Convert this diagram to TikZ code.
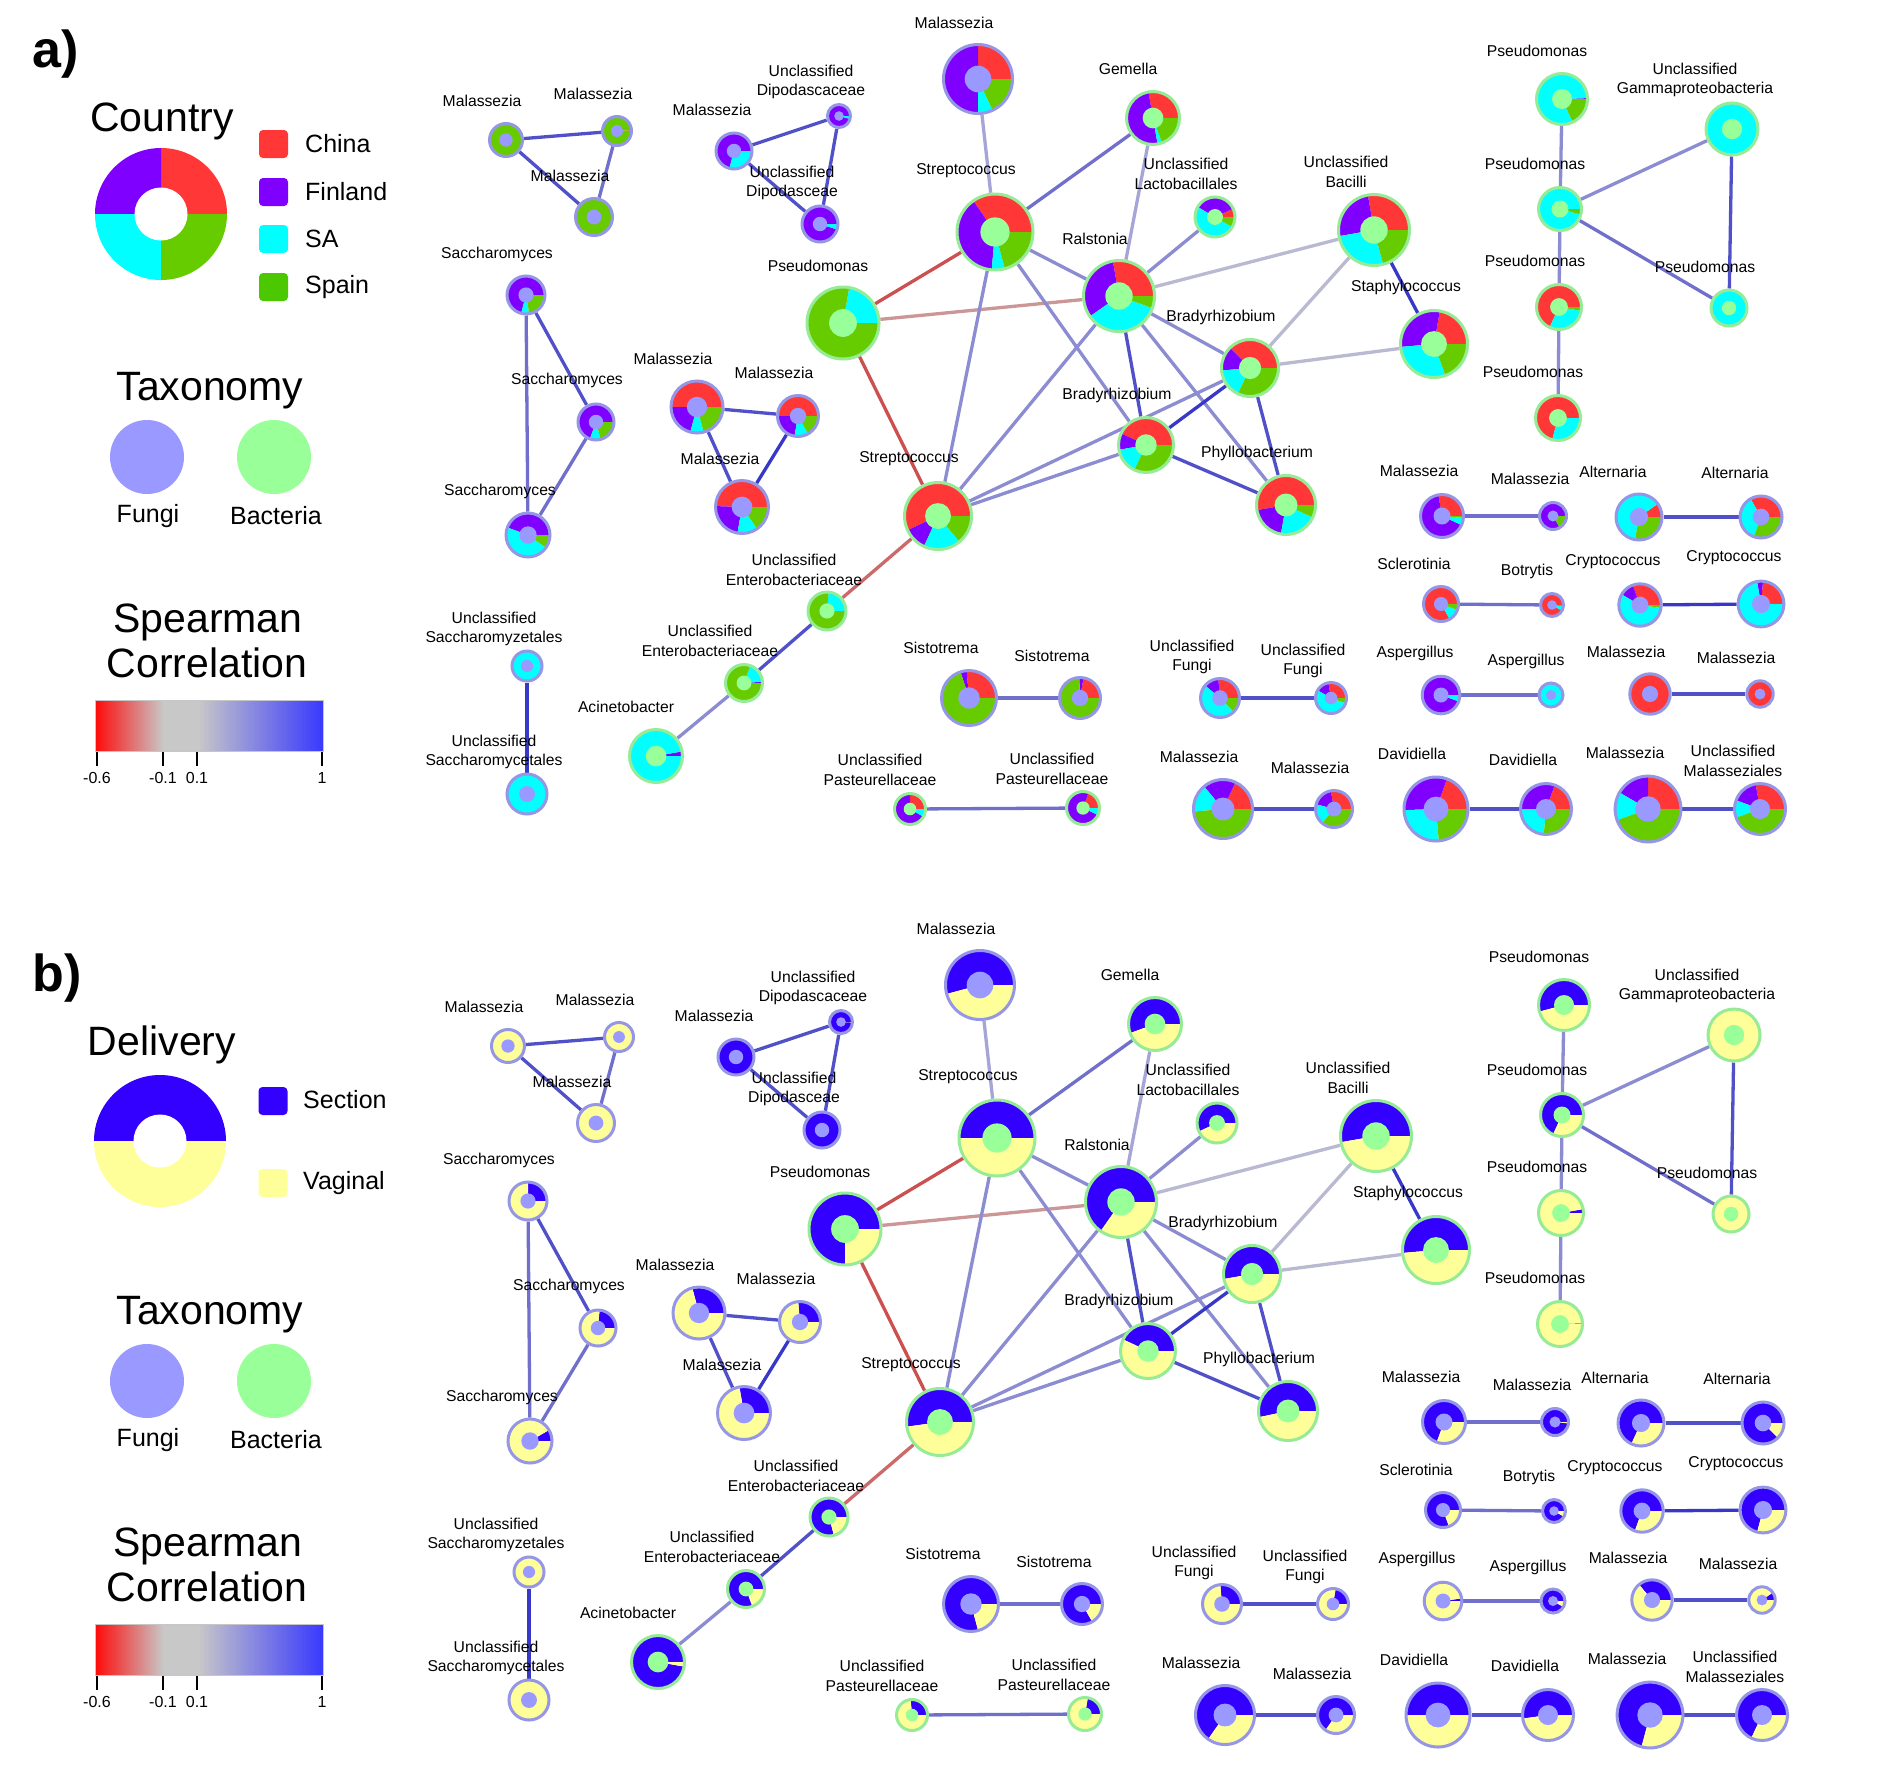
\documentclass[tikz,border=0pt]{standalone}
\usepackage{fontspec}
\setmainfont{Liberation Sans}
\pgfdeclarelayer{bgw}
\pgfdeclarelayer{edges}
\pgfsetlayers{bgw,edges,main}
\definecolor{cchina}{RGB}{255,55,55}
\definecolor{cfin}{RGB}{127,0,255}
\definecolor{csa}{RGB}{0,255,255}
\definecolor{cspain}{RGB}{102,204,0}
\definecolor{cspainL}{RGB}{76,200,0}
\definecolor{csec}{RGB}{51,0,255}
\definecolor{cvag}{RGB}{255,255,153}
\definecolor{innf}{RGB}{153,153,255}
\definecolor{innb}{RGB}{153,255,153}
\definecolor{bordf}{RGB}{150,150,230}
\definecolor{bordb}{RGB}{150,235,150}
\definecolor{ecA}{RGB}{56,56,200}
\definecolor{ecB}{RGB}{80,80,200}
\definecolor{ecC}{RGB}{112,112,204}
\definecolor{ecD}{RGB}{140,140,210}
\definecolor{ecE}{RGB}{165,165,215}
\definecolor{ecF}{RGB}{185,185,210}
\definecolor{ecR}{RGB}{204,80,80}
\definecolor{ecS}{RGB}{204,105,105}
\definecolor{ecP}{RGB}{204,150,150}
\definecolor{cred}{RGB}{255,10,10}
\definecolor{cgray}{RGB}{200,200,200}
\definecolor{cblue}{RGB}{56,56,255}
\tikzset{
  lbl/.style={font=\fontsize{15.7}{19.5}\selectfont, align=center, inner sep=0pt},
  ttl/.style={font=\fontsize{41}{49}\selectfont, inner sep=0pt, anchor=base},
  leg/.style={font=\fontsize{25}{30}\selectfont, inner sep=0pt, anchor=west},
  sq/.style={minimum width=29pt, minimum height=28pt, inner sep=0pt, rounded corners=4pt},
  ticklab/.style={font=\fontsize{16}{19}\selectfont, inner sep=0pt},
}
\newif\ifpanelb
\def\npre{a}
\newcommand\wdg[6]{\ifdim #5pt<#6pt\relax \fill[#1] (#2,#3) -- ++(#5:#4) arc[start angle=#5, end angle=#6, radius=#4] -- cycle;\fi}
\newcommand\pnode[9]{%
  \pgfmathsetmacro\rin{#4-1.5}%
  \ifpanelb
    \wdg{csec}{#2}{-#3}{\rin}{0}{#9}%
    \wdg{cvag}{#2}{-#3}{\rin}{#9}{360}%
  \else
    \wdg{cchina}{#2}{-#3}{\rin}{0}{#6}%
    \wdg{cfin}{#2}{-#3}{\rin}{#6}{#7}%
    \wdg{csa}{#2}{-#3}{\rin}{#7}{#8}%
    \wdg{cspain}{#2}{-#3}{\rin}{#8}{360}%
  \fi
  \fill[inn#5] (#2,-#3) circle[radius=0.37*#4];%
  \node[circle, inner sep=0pt, minimum size=2*#4-3, draw=bord#5, line width=3pt] (\npre-#1) at (#2,-#3) {};%
}
\newcommand\edg[3]{\draw[line width=3.3pt, #3] (\npre-#1) -- (\npre-#2);}
\newcommand\nlab[4]{\node[lbl] (\npre-l-#1) at (#2,-#3) {#4};}
\newcommand\drawnet{%
\pnode{M1}{506}{140}{18}{f}{0}{0}{0}{0}
\pnode{M2}{617}{131}{16}{f}{3}{3}{3}{0}
\pnode{M3}{594}{217}{20}{f}{0}{0}{0}{0}
\pnode{M4}{734}{151}{19.5}{f}{0}{255}{360}{360}
\pnode{UDa}{839}{116}{13}{f}{0}{345}{360}{357}
\pnode{UDb}{820}{224}{19.5}{f}{0}{342}{360}{360}
\pnode{S1}{526}{295}{20.5}{f}{0}{255}{280}{90}
\pnode{S2}{596}{422}{19.5}{f}{0}{250}{285}{85}
\pnode{S3}{528}{535}{23.5}{f}{0}{160}{325}{30}
\pnode{M5}{697}{407}{27.5}{f}{180}{255}{285}{105}
\pnode{M6}{798}{416}{22}{f}{180}{260}{300}{95}
\pnode{M7}{742}{507}{28}{f}{178}{260}{305}{100}
\pnode{P0}{843}{323}{37.5}{b}{0}{0}{80}{270}
\pnode{MT}{978}{79}{36}{f}{90}{270}{295}{195}
\pnode{GE}{1153}{118}{28}{b}{100}{280}{290}{200}
\pnode{ST1}{995}{232}{39.5}{b}{125}{265}{285}{180}
\pnode{UL}{1215}{217}{21.5}{b}{25}{150}{330}{205}
\pnode{R}{1119}{296}{37}{b}{100}{215}{340}{235}
\pnode{UB}{1374}{230}{37}{b}{100}{190}{285}{190}
\pnode{B1}{1250}{368}{30}{b}{135}{185}{245}{190}
\pnode{SP}{1434}{344}{35}{b}{80}{185}{290}{185}
\pnode{B2}{1146}{445}{29}{b}{155}{190}{245}{155}
\pnode{PH}{1286}{505}{31}{b}{190}{260}{335}{192}
\pnode{ST2}{938}{516}{35}{b}{205}{245}{310}{188}
\pnode{UE1}{827}{611}{20.5}{b}{0}{0}{85}{285}
\pnode{UE2}{744}{683}{20}{b}{0}{4}{70}{290}
\pnode{AC}{656}{756}{28}{b}{0}{10}{360}{350}
\pnode{SCa}{527}{666}{16.5}{f}{0}{0}{360}{0}
\pnode{SCb}{527}{794}{21.5}{f}{0}{0}{360}{0}
\pnode{UP1}{910}{809}{17}{b}{90}{330}{360}{95}
\pnode{UP2}{1083}{808}{18}{b}{70}{335}{360}{80}
\pnode{SI1}{969}{698}{29}{f}{95}{108}{108}{285}
\pnode{SI2}{1080}{698}{22}{f}{80}{92}{92}{300}
\pnode{UF1}{1220}{698}{21}{f}{95}{140}{315}{95}
\pnode{UF2}{1331}{698}{17}{f}{100}{150}{340}{80}
\pnode{MM1}{1223}{809}{31}{f}{65}{130}{185}{235}
\pnode{MM2}{1334}{809}{20}{f}{100}{165}{230}{235}
\pnode{MA1}{1442}{516}{23}{f}{100}{335}{355}{250}
\pnode{MA2}{1553}{516}{15}{f}{0}{300}{300}{354}
\pnode{AL1}{1639}{517}{24.5}{f}{35}{35}{260}{245}
\pnode{AL2}{1761}{517}{22.5}{f}{120}{120}{250}{315}
\pnode{SC}{1441}{604}{19}{f}{300}{300}{340}{290}
\pnode{BO}{1552}{605}{13}{f}{330}{330}{352}{330}
\pnode{CR1}{1640}{605}{22.7}{f}{110}{150}{352}{250}
\pnode{CR2}{1761}{604}{24.4}{f}{85}{100}{360}{255}
\pnode{AS1}{1441}{695}{20.3}{f}{0}{340}{360}{8}
\pnode{AS2}{1551}{695}{13.5}{f}{0}{3}{360}{330}
\pnode{MC1}{1650}{694}{21.7}{f}{360}{360}{360}{130}
\pnode{MC2}{1760}{694}{14.7}{f}{360}{360}{360}{35}
\pnode{DA1}{1436}{809}{33.5}{f}{70}{182}{275}{180}
\pnode{DA2}{1546}{809}{27}{f}{70}{180}{265}{188}
\pnode{MD1}{1648}{809}{34.4}{f}{90}{150}{200}{255}
\pnode{UM}{1760}{809}{27}{f}{100}{160}{200}{245}
\pnode{PS1}{1562}{99}{27}{b}{0}{2}{295}{195}
\pnode{UG}{1732}{129}{27.5}{b}{0}{0}{360}{0}
\pnode{PS2}{1560}{209}{23}{b}{0}{0}{345}{245}
\pnode{PS3}{1559}{307}{24}{b}{245}{245}{350}{10}
\pnode{PS4}{1558}{418}{24}{b}{255}{255}{360}{2}
\pnode{PS5}{1729}{308}{19.5}{b}{0}{0}{360}{0}
\begin{pgfonlayer}{edges}
\edg{M1}{M2}{ecB}\edg{M1}{M3}{ecB}\edg{M2}{M3}{ecC}
\edg{M4}{UDa}{ecB}\edg{M4}{UDb}{ecB}\edg{UDa}{UDb}{ecB}
\edg{S1}{S2}{ecB}\edg{S1}{S3}{ecC}\edg{S2}{S3}{ecC}
\edg{M5}{M6}{ecB}\edg{M5}{M7}{ecB}\edg{M6}{M7}{ecA}
\edg{P0}{ST1}{ecR}\edg{P0}{R}{ecP}\edg{P0}{ST2}{ecR}
\edg{MT}{ST1}{ecE}\edg{GE}{ST1}{ecC}\edg{GE}{R}{ecE}
\edg{UL}{R}{ecD}\edg{UB}{R}{ecF}\edg{UB}{B1}{ecF}
\edg{UB}{SP}{ecA}\edg{SP}{B1}{ecF}\edg{ST1}{R}{ecD}
\edg{ST1}{ST2}{ecD}\edg{ST1}{B2}{ecD}\edg{R}{B1}{ecD}
\edg{R}{B2}{ecB}\edg{R}{PH}{ecD}\edg{R}{ST2}{ecD}
\edg{B1}{B2}{ecA}\edg{B1}{ST2}{ecD}\edg{B2}{ST2}{ecD}
\edg{B1}{PH}{ecB}\edg{B2}{PH}{ecB}
\edg{ST2}{UE1}{ecS}\edg{UE1}{UE2}{ecB}\edg{UE2}{AC}{ecD}
\edg{SCa}{SCb}{ecA}\edg{UP1}{UP2}{ecC}\edg{SI1}{SI2}{ecC}
\edg{UF1}{UF2}{ecB}\edg{MM1}{MM2}{ecB}\edg{MA1}{MA2}{ecC}
\edg{AL1}{AL2}{ecB}\edg{SC}{BO}{ecC}\edg{CR1}{CR2}{ecA}
\edg{AS1}{AS2}{ecC}\edg{MC1}{MC2}{ecB}\edg{DA1}{DA2}{ecB}
\edg{MD1}{UM}{ecB}
\edg{PS1}{PS2}{ecD}\edg{PS2}{UG}{ecD}\edg{PS2}{PS3}{ecD}
\edg{PS2}{PS5}{ecC}\edg{PS3}{PS4}{ecD}\edg{UG}{PS5}{ecB}
\end{pgfonlayer}
\nlab{M1}{482}{101}{Malassezia}
\nlab{M2}{593}{94}{Malassezia}
\nlab{M3}{570}{176}{Malassezia}
\nlab{M4}{712}{110}{Malassezia}
\nlab{UDa}{811}{82}{Unclassified\\Dipodascaceae}
\nlab{UDb}{792}{183}{Unclassified\\Dipodasceae}
\nlab{S1}{497}{254}{Saccharomyces}
\nlab{S2}{567}{380}{Saccharomyces}
\nlab{S3}{500}{491}{Saccharomyces}
\nlab{M5}{673}{359}{Malassezia}
\nlab{M6}{774}{373}{Malassezia}
\nlab{M7}{720}{459}{Malassezia}
\nlab{P0}{818}{266}{Pseudomonas}
\nlab{MT}{954}{23}{Malassezia}
\nlab{GE}{1128}{69}{Gemella}
\nlab{ST1}{966}{171}{Streptococcus}
\nlab{UL}{1186}{174}{Unclassified\\Lactobacillales}
\nlab{R}{1095}{239}{Ralstonia}
\nlab{UB}{1346}{172}{Unclassified\\Bacilli}
\nlab{B1}{1221}{317}{Bradyrhizobium}
\nlab{SP}{1406}{287}{Staphylococcus}
\nlab{B2}{1117}{395}{Bradyrhizobium}
\nlab{PH}{1257}{453}{Phyllobacterium}
\nlab{ST2}{909}{459}{Streptococcus}
\nlab{UE1}{794}{570}{Unclassified\\Enterobacteriaceae}
\nlab{UE2}{710}{641}{Unclassified\\Enterobacteriaceae}
\nlab{AC}{626}{707}{Acinetobacter}
\nlab{SCa}{494}{629}{Unclassified\\Saccharomyzetales}
\nlab{SCb}{494}{752}{Unclassified\\Saccharomycetales}
\nlab{UP1}{880}{770}{Unclassified\\Pasteurellaceae}
\nlab{UP2}{1052}{769}{Unclassified\\Pasteurellaceae}
\nlab{SI1}{941}{648}{Sistotrema}
\nlab{SI2}{1052}{656}{Sistotrema}
\nlab{UF1}{1192}{657}{Unclassified\\Fungi}
\nlab{UF2}{1303}{661}{Unclassified\\Fungi}
\nlab{MM1}{1199}{757}{Malassezia}
\nlab{MM2}{1310}{768}{Malassezia}
\nlab{MA1}{1419}{471}{Malassezia}
\nlab{MA2}{1530}{479}{Malassezia}
\nlab{AL1}{1613}{472}{Alternaria}
\nlab{AL2}{1735}{473}{Alternaria}
\nlab{SC}{1414}{564}{Sclerotinia}
\nlab{BO}{1527}{571}{Botrytis}
\nlab{CR1}{1613}{562}{Cryptococcus}
\nlab{CR2}{1734}{558}{Cryptococcus}
\nlab{AS1}{1415}{653}{Aspergillus}
\nlab{AS2}{1526}{661}{Aspergillus}
\nlab{MC1}{1626}{652}{Malassezia}
\nlab{MC2}{1736}{658}{Malassezia}
\nlab{DA1}{1412}{754}{Davidiella}
\nlab{DA2}{1523}{760}{Davidiella}
\nlab{MD1}{1625}{753}{Malassezia}
\nlab{UM}{1733}{761}{Unclassified\\Malasseziales}
\nlab{PS1}{1537}{51}{Pseudomonas}
\nlab{UG}{1695}{80}{Unclassified\\Gammaproteobacteria}
\nlab{PS2}{1535}{164}{Pseudomonas}
\nlab{PS3}{1535}{261}{Pseudomonas}
\nlab{PS4}{1533}{372}{Pseudomonas}
\nlab{PS5}{1705}{267}{Pseudomonas}
}
\newcommand\sharedlegend{%
\node[ttl] (\npre-taxt) at (210,-400) {Taxonomy};
\node[circle, fill=innf, minimum size=74pt, inner sep=0pt] (\npre-fungi) at (147,-457) {};
\node[circle, fill=innb, minimum size=74pt, inner sep=0pt] (\npre-bact) at (274,-457) {};
\node[leg, anchor=center] (\npre-fungit) at (148,-516) {Fungi};
\node[leg, anchor=center] (\npre-bactt) at (276,-516) {Bacteria};
\node[ttl] (\npre-spear) at (208,-632) {Spearman};
\node[ttl] (\npre-corr) at (207,-677) {Correlation};
\foreach \i in {0,...,227}{%
  \pgfmathtruncatemacro\cbA{min(100,max(0,\i/68*100))}%
  \pgfmathtruncatemacro\cbB{min(100,max(0,(\i-102)/126*100))}%
  \ifnum\i<68 \colorlet{cbar}{cgray!\cbA!cred}\else\colorlet{cbar}{cblue!\cbB!cgray}\fi
  \fill[cbar] (95+\i,-700) rectangle (96.4+\i,-751);
}
\draw[gray!45, line width=0.6pt] (95,-700) rectangle (323,-751);
\foreach \tx in {97,163,197,322}{\draw[line width=2pt] (\tx,-752) -- (\tx,-766);}
\node[ticklab] (\npre-t1) at (97,-778) {-0.6};
\node[ticklab] (\npre-t2) at (163,-778) {-0.1};
\node[ticklab] (\npre-t3) at (197,-778) {0.1};
\node[ticklab] (\npre-t4) at (322,-778) {1};
}
\begin{document}
\begin{tikzpicture}[x=1pt,y=1pt]
\useasboundingbox (0,0) rectangle (1881,-1783);
\begin{pgfonlayer}{bgw}
\fill[white] (0,0) rectangle (1881,-1783);
\end{pgfonlayer}
% ---------- panel a legend
\node[font=\fontsize{52}{60}\selectfont\bfseries, inner sep=0pt] (alab) at (56,-54) {a)};
\node[ttl] (ctitle) at (162,-131) {Country};
\wdg{cchina}{161}{-214}{66}{0}{90}
\wdg{cfin}{161}{-214}{66}{90}{180}
\wdg{csa}{161}{-214}{66}{180}{270}
\wdg{cspain}{161}{-214}{66}{270}{360}
\fill[white] (161,-214) circle[radius=26.5];
\node[sq, fill=cchina] (sqchina) at (273.5,-144) {};
\node[sq, fill=cfin] (sqfin) at (273.5,-192) {};
\node[sq, fill=csa] (sqsa) at (273.5,-239) {};
\node[sq, fill=cspainL] (sqspain) at (273.5,-287) {};
\node[leg] (lchina) at (305,-144) {China};
\node[leg] (lfin) at (305,-192) {Finland};
\node[leg] (lsa) at (305,-239) {SA};
\node[leg] (lspain) at (305,-287) {Spain};
\begin{scope}
\def\npre{a}
\sharedlegend
\end{scope}
% ---------- panel b legend
\node[font=\fontsize{52}{60}\selectfont\bfseries, inner sep=0pt] (blab) at (57,-978) {b)};
\node[ttl] (dtitle) at (162,-1055) {Delivery};
\wdg{csec}{160}{-1141}{66}{0}{180}
\wdg{cvag}{160}{-1141}{66}{180}{360}
\fill[white] (160,-1141) circle[radius=26.5];
\node[sq, fill=csec] (sqsec) at (273,-1101) {};
\node[sq, fill=cvag] (sqvag) at (273,-1183) {};
\node[leg] (lsec) at (303,-1100) {Section};
\node[leg] (lvag) at (303,-1183) {Vaginal};
\begin{scope}[shift={(0,-924)}]
\def\npre{b}
\sharedlegend
\end{scope}
% ---------- networks
\begin{scope}
\panelbfalse\def\npre{a}
\drawnet
\end{scope}
\begin{scope}[shift={(2,-906)}]
\panelbtrue\def\npre{b}
\drawnet
\end{scope}
\end{tikzpicture}
\end{document}
